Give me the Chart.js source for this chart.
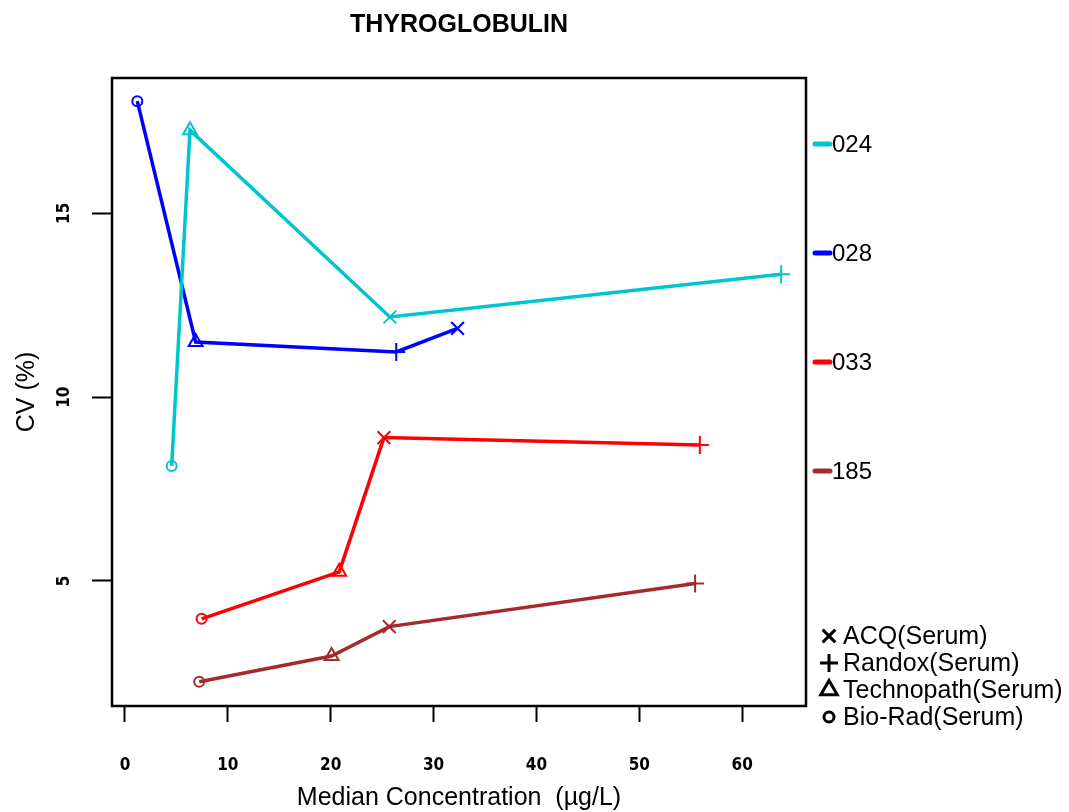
<!DOCTYPE html>
<html>
<head>
<meta charset="utf-8">
<title>Thyroglobulin CV</title>
<script src="https://cdn.jsdelivr.net/npm/chart.js@4.4.1/dist/chart.umd.min.js"></script>
<style>
  body { margin: 0; background: #fff; }
  #wrap { width: 1069px; height: 812px; }
</style>
</head>
<body>
<div id="wrap"><canvas id="cvChart"></canvas></div>
<script>
// lots and their median concentration (ug/L) vs CV (%) per method
const chartTitle = "THYROGLOBULIN";
const lots = ["024", "028", "033", "185"];
const methodNames = ["ACQ(Serum)", "Randox(Serum)", "Technopath(Serum)", "Bio-Rad(Serum)"];

const conc024 = [4.54, 6.32, 25.75, 63.78];
const cv024 = [8.13, 17.26, 12.18, 13.34];
const meth024 = ["Bio-Rad(Serum)", "Technopath(Serum)", "ACQ(Serum)", "Randox(Serum)"];

const conc028 = [1.2, 6.87, 26.37, 32.33];
const cv028 = [18.05, 11.5, 11.23, 11.87];
const meth028 = ["Bio-Rad(Serum)", "Technopath(Serum)", "Randox(Serum)", "ACQ(Serum)"];

const conc033 = [7.45, 20.83, 25.17, 55.88];
const cv033 = [3.97, 5.25, 8.9, 8.7];
const meth033 = ["Bio-Rad(Serum)", "Technopath(Serum)", "ACQ(Serum)", "Randox(Serum)"];

const conc185 = [7.22, 20.09, 25.69, 55.42];
const cv185 = [2.26, 2.96, 3.76, 4.93];
const meth185 = ["Bio-Rad(Serum)", "Technopath(Serum)", "ACQ(Serum)", "Randox(Serum)"];

const xTicks = [0, 10, 20, 30, 40, 50, 60];
const yTicks = [5, 10, 15];

const lotColors = ["#00C5CD", "#0000FF", "#FF0000", "#A52A2A"];

const SANS = "'Liberation Sans', Arial, sans-serif";
const NARROW = "'Liberation Sans Narrow', 'DejaVu Sans Condensed', sans-serif";

// marker per method
const markerOf = {
  "ACQ(Serum)": { style: "crossRot", r: 9 },
  "Randox(Serum)": { style: "cross", r: 9 },
  "Technopath(Serum)": { style: "triangle", r: 8 },
  "Bio-Rad(Serum)": { style: "circle", r: 5 }
};

function series(label, xs, ys, meths, color) {
  return {
    label: label,
    data: xs.map((x, i) => ({ x: x, y: ys[i] })),
    showLine: true,
    borderColor: color,
    borderWidth: 3.5,
    pointStyle: meths.map(m => markerOf[m].style),
    pointRadius: meths.map(m => markerOf[m].r),
    pointBorderColor: color,
    pointBackgroundColor: "rgba(0,0,0,0)",
    pointBorderWidth: 2
  };
}

const datasets = [
  series(lots[0], conc024, cv024, meth024, lotColors[0]),
  series(lots[1], conc028, cv028, meth028, lotColors[1]),
  series(lots[2], conc033, cv033, meth033, lotColors[2]),
  series(lots[3], conc185, cv185, meth185, lotColors[3])
];

// title, box around the plot, and the two keys on the right
const boxAndKeys = {
  id: "boxAndKeys",
  afterDraw(chart) {
    const ctx = chart.ctx;
    const a = chart.chartArea;
    ctx.save();
    ctx.fillStyle = "#000";
    ctx.textAlign = "center";
    ctx.textBaseline = "middle";
    ctx.font = "bold 25px " + SANS;
    ctx.fillText(chartTitle, 459, 25);

    ctx.strokeStyle = "#000";
    ctx.lineWidth = 2.5;
    ctx.strokeRect(a.left, a.top, a.right - a.left, a.bottom - a.top);

    ctx.font = "24px " + SANS;
    ctx.textAlign = "left";
    const lotY = [144, 253, 362, 471];
    chart.data.datasets.forEach((ds, i) => {
      ctx.strokeStyle = ds.borderColor;
      ctx.lineWidth = 5;
      ctx.lineCap = "round";
      ctx.beginPath();
      ctx.moveTo(815, lotY[i]);
      ctx.lineTo(830, lotY[i]);
      ctx.stroke();
      ctx.fillStyle = "#000";
      ctx.fillText(ds.label, 832, lotY[i] + 1);
    });

    ctx.font = "25px " + SANS;
    ctx.lineCap = "butt";
    const keyY = [636, 663, 690, 717];
    methodNames.forEach((m, i) => {
      ctx.strokeStyle = "#000";
      ctx.fillStyle = "rgba(0,0,0,0)";
      ctx.lineWidth = 3;
      const mk = markerOf[m];
      Chart.helpers.drawPoint(ctx, {
        pointStyle: mk.style,
        radius: mk.style === "triangle" ? 9.5 : mk.r,
        borderWidth: 3,
        rotation: 0
      }, 829, keyY[i]);
      ctx.fillStyle = "#000";
      ctx.fillText(m, 843, keyY[i] + 1);
    });
    ctx.restore();
  }
};

new Chart(document.getElementById("cvChart"), {
  type: "scatter",
  data: { datasets: datasets },
  plugins: [boxAndKeys],
  options: {
    responsive: true,
    maintainAspectRatio: false,
    animation: false,
    layout: { padding: { left: 0, right: 263, top: 78, bottom: 0 } },
    plugins: {
      legend: { display: false },
      tooltip: { enabled: false },
      title: { display: false }
    },
    scales: {
      x: {
        type: "linear",
        min: -1.26,
        max: 66.2,
        afterBuildTicks: s => { s.ticks = xTicks.map(v => ({ value: v })); },
        afterFit: s => { s.height = 106; },
        grid: { drawOnChartArea: false, drawTicks: true, tickLength: 16, tickWidth: 2, tickColor: "#000" },
        border: { display: false },
        ticks: {
          color: "#000",
          font: { family: NARROW, size: 17, weight: "bold" },
          padding: 33,
          maxRotation: 0
        },
        title: {
          display: true,
          text: "Median Concentration  (µg/L)",
          color: "#000",
          font: { family: SANS, size: 25, lineHeight: 1 },
          padding: 1
        }
      },
      y: {
        type: "linear",
        min: 1.6,
        max: 18.68,
        afterBuildTicks: s => { s.ticks = yTicks.map(v => ({ value: v })); },
        afterFit: s => { s.width = 112; },
        grid: { drawOnChartArea: false, drawTicks: true, tickLength: 20, tickWidth: 2, tickColor: "#000" },
        border: { display: false },
        ticks: {
          color: "#000",
          font: { family: NARROW, size: 17, weight: "bold" },
          minRotation: 90,
          maxRotation: 90,
          crossAlign: "center",
          padding: 17
        },
        title: {
          display: true,
          text: "CV (%)",
          color: "#000",
          font: { family: SANS, size: 25, lineHeight: 1.2 },
          padding: 12
        }
      }
    }
  }
});
</script>
</body>
</html>
